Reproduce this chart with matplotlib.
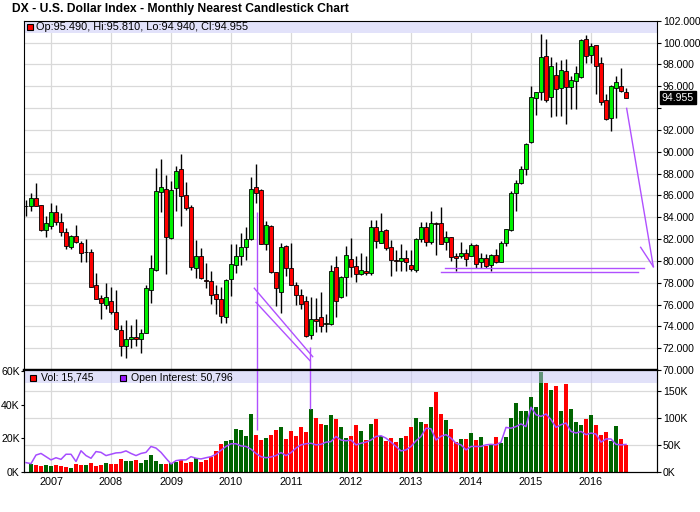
import matplotlib
matplotlib.use("Agg")
import matplotlib.pyplot as plt
from matplotlib.patches import Rectangle
import numpy as np
import pandas as pd

plt.rcParams['font.family'] = ['Liberation Sans', 'DejaVu Sans']

# Dados mensais (Ago 2006 .. Ago 2016)
start_month = "2006-08-01"

opens = [85.00, 85.00, 85.74, 85.10, 82.86, 83.16, 84.47, 83.56, 82.64, 81.28,
         82.28, 81.64, 80.78, 80.82, 77.75, 76.60, 75.96, 76.35, 75.35, 73.70,
         72.20, 72.80, 73.00, 72.80, 73.43, 77.36, 79.15, 86.35, 86.56, 82.07,
         86.63, 88.39, 86.05, 84.95, 79.36, 80.46, 78.24, 78.18, 76.93, 76.53,
         74.90, 78.36, 79.63, 80.46, 81.25, 81.98, 86.72, 86.48, 81.56, 83.20,
         78.97, 77.12, 81.37, 79.34, 77.82, 76.90, 76.30, 73.17, 74.69, 74.87,
         74.20, 74.23, 79.43, 76.66, 78.52, 80.19, 79.55, 78.82, 79.10, 78.88,
         83.14, 81.68, 82.83, 81.25, 80.10, 79.97, 80.25, 79.64, 79.18, 81.98,
         83.14, 81.77, 83.44, 83.44, 81.77, 82.16, 80.40, 80.40, 80.76, 80.46,
         81.49, 79.91, 80.30, 79.60, 80.52, 79.91, 81.61, 82.83, 86.18, 87.09,
         88.43, 90.87, 94.92, 95.43, 98.78, 95.01, 97.05, 95.83, 97.41, 95.92,
         96.50, 96.83, 100.30, 98.87, 99.79, 98.17, 94.70, 93.09, 95.83, 96.04,
         95.49]
highs = [85.60, 86.26, 87.17, 85.15, 84.13, 85.30, 85.10, 84.40, 83.00, 82.35,
         83.30, 81.80, 82.00, 81.10, 78.85, 76.90, 77.93, 77.60, 77.30, 74.10,
         74.56, 74.10, 74.65, 73.80, 77.80, 80.50, 88.54, 89.33, 87.87, 87.36,
         88.72, 89.79, 87.26, 85.10, 81.88, 81.20, 79.76, 79.10, 77.75, 77.60,
         78.30, 81.50, 81.50, 82.53, 83.14, 87.70, 88.85, 86.60, 83.68, 83.30,
         79.00, 81.62, 81.46, 81.60, 78.10, 77.40, 76.80, 76.66, 76.60, 77.10,
         75.17, 79.64, 80.46, 78.60, 81.37, 82.07, 80.40, 80.70, 80.46, 83.74,
         83.74, 84.35, 82.90, 81.90, 81.00, 81.55, 81.00, 81.00, 82.10, 83.60,
         83.60, 84.60, 83.60, 84.96, 82.74, 82.20, 80.70, 81.74, 81.07, 81.61,
         81.55, 80.76, 80.61, 80.67, 81.13, 81.83, 82.95, 86.39, 87.40, 88.68,
         90.80, 95.98, 95.50, 100.79, 100.30, 98.72, 98.26, 98.42, 98.48, 96.89,
         97.81, 100.30, 100.70, 100.00, 99.80, 98.72, 95.31, 96.13, 96.96, 97.66,
         95.81]
lows = [84.10, 84.53, 84.98, 82.70, 82.16, 82.90, 83.30, 82.30, 81.10, 81.10,
        81.60, 79.90, 79.90, 77.60, 76.50, 74.70, 75.56, 75.10, 73.70, 71.25,
        71.06, 72.00, 72.20, 71.60, 73.40, 76.10, 79.06, 84.44, 78.80, 82.00,
        84.60, 83.16, 84.70, 79.20, 78.45, 78.30, 77.54, 76.05, 75.10, 74.35,
        74.35, 76.80, 78.90, 79.64, 80.10, 81.95, 85.33, 81.50, 81.00, 78.90,
        75.84, 75.23, 78.58, 77.80, 76.00, 75.60, 73.00, 72.86, 73.47, 73.47,
        73.47, 74.10, 74.87, 76.60, 76.75, 78.52, 78.10, 78.73, 78.70, 78.70,
        81.22, 81.60, 81.00, 78.58, 79.03, 79.03, 79.03, 79.10, 78.94, 81.77,
        81.37, 81.50, 80.55, 81.50, 81.00, 79.95, 79.03, 80.30, 79.54, 80.40,
        79.39, 79.39, 79.39, 79.09, 79.80, 79.85, 81.37, 82.70, 84.57, 87.00,
        87.91, 90.81, 93.39, 94.76, 94.52, 93.18, 93.30, 93.30, 92.57, 93.91,
        93.91, 96.74, 98.11, 98.11, 95.31, 94.31, 92.94, 91.87, 93.09, 95.43,
        94.94]
closes = [84.98, 85.75, 85.07, 82.86, 83.46, 84.47, 83.56, 82.64, 81.34, 82.25,
          81.73, 80.73, 80.85, 77.63, 76.53, 76.17, 76.70, 75.30, 73.74, 72.20,
          72.80, 72.98, 72.80, 73.43, 77.54, 79.35, 86.41, 86.75, 82.16, 86.50,
          88.20, 85.90, 84.80, 79.42, 80.46, 78.42, 78.12, 76.90, 76.53, 74.95,
          78.27, 79.73, 80.46, 81.28, 82.00, 86.54, 86.24, 81.56, 83.26, 78.97,
          77.51, 81.25, 79.34, 77.82, 76.90, 76.02, 73.10, 74.69, 74.47, 74.02,
          74.30, 79.09, 76.30, 78.52, 80.52, 79.43, 78.79, 79.18, 78.88, 83.14,
          81.83, 82.74, 81.22, 80.04, 80.00, 80.22, 79.88, 79.24, 81.98, 83.14,
          81.77, 83.44, 83.35, 81.53, 82.16, 80.34, 80.25, 80.76, 80.21, 81.49,
          79.70, 80.30, 79.54, 80.52, 79.85, 81.61, 82.89, 86.18, 87.09, 88.43,
          90.75, 95.01, 95.43, 98.66, 94.70, 97.87, 95.74, 97.50, 95.92, 96.59,
          97.20, 100.24, 98.78, 99.70, 97.81, 94.52, 93.00, 95.98, 96.35, 95.53,
          94.955]
volume = [0, 4400, 4200, 3400, 4000, 3600, 4000, 3400, 2800, 2200,
          4600, 4200, 4200, 5200, 3600, 4200, 5200, 4600, 4600, 7600,
          6400, 6400, 7000, 5400, 7000, 10000, 6400, 4600, 4600, 5200,
          5600, 7000, 5400, 5800, 8000, 5800, 7000, 9000, 12400, 16600,
          18000, 19000, 25600, 25000, 21000, 34600, 21600, 19000, 20200, 22000,
          25000, 26800, 19600, 24000, 21000, 26800, 23800, 37600, 32200, 28600,
          28000, 34000, 31600, 26800, 20200, 21400, 28000, 24400, 19000, 28600,
          31600, 21200, 18000, 20200, 17800, 20200, 21000, 26800, 32200, 29800,
          28600, 38800, 47200, 34600, 31000, 25300, 17800, 19600, 19600, 23200,
          19000, 20800, 15600, 16400, 20800, 17200, 20800, 32200, 41200, 36400,
          36400, 44800, 38400, 59200, 52600, 48400, 50800, 36400, 52000, 37200,
          29800, 28000, 31600, 34000, 28000, 22000, 23800, 18400, 27400, 19600,
          15745]
open_interest = [16900, 15000, 31000, 34000, 28000, 22000, 26000, 23000, 32500, 32500,
                 19000, 39000, 30000, 25000, 37500, 36000, 30000, 32500, 35000, 35600,
                 38750, 34000, 30000, 34000, 36000, 47000, 44000, 36000, 25000, 14400,
                 20600, 22000, 22000, 28000, 25000, 23750, 26000, 28000, 32500, 40000,
                 47000, 52000, 52000, 48000, 47000, 42000, 34000, 28000, 26000, 27500,
                 30000, 35600, 30000, 35600, 44000, 50000, 52000, 53000, 50000, 51000,
                 55000, 56000, 65600, 59000, 57500, 59000, 50000, 53000, 55000, 59000,
                 65600, 67000, 62500, 55000, 47000, 38750, 40600, 47000, 57500, 65600,
                 81000, 80000, 59000, 66000, 69000, 62500, 53000, 50000, 40600, 47000,
                 47000, 47000, 50000, 51000, 50000, 55000, 82500, 81000, 84000, 89000,
                 84000, 120000, 106000, 103000, 107500, 97000, 82500, 87500, 90600, 75000,
                 72000, 75000, 69000, 72000, 70000, 55000, 61000, 61000, 51000, 50000,
                 50796]

# Linhas desenhadas a mao (indice do mes, preco)
marker_months = [46.27, 56.86]
marker_price_top = [84.50, 72.14]
marker_vol_bottom = [24600, 37400]
channel_a = ([45.66, 57.34], [77.49, 71.22])
channel_b = ([46.00, 56.80], [76.20, 70.85])
support_1 = ([83.8, 123.6], [79.32, 79.32])
support_2 = ([83.0, 122.34], [78.95, 78.95])
drop_line = ([120.13, 125.47], [93.97, 79.46])
drop_tick = ([122.93, 125.47], [81.24, 79.46])

dates = pd.date_range(start_month, periods=len(closes), freq="MS")
x = np.arange(len(closes))
o = np.array(opens)
c = np.array(closes)
up = c >= o
jan_pos = x[dates.month == 1]
jan_lab = [str(d.year) for d in dates[dates.month == 1]]

purple = "#b050ff"
grid_c = "#d9d9d9"
band_c = "#e2e2fa"
fs = 7.6

fig = plt.figure(figsize=(7, 5.12), dpi=100)
ax = fig.add_axes([24 / 700, 1 - 370 / 512, 633.3 / 700, 349.3 / 512])
ax2 = fig.add_axes([24 / 700, 1 - 471.7 / 512, 633.3 / 700, 101.7 / 512])

# --- painel de precos (candles)
ax.vlines(x, lows, highs, color="black", lw=1, zorder=3)
body_h = np.maximum(np.abs(c - o), 0.06)
ax.bar(x, body_h, bottom=np.minimum(o, c), width=0.62,
       color=np.where(up, "#00f000", "#ff0000"), edgecolor="black", lw=0.6, zorder=4)

ax.set_xlim(-0.4, 126.26)
ax.set_ylim(70, 102)
ax.set_xticks(jan_pos)
ax.tick_params(axis="x", length=0, labelbottom=False)
ax.yaxis.tick_right()
yt = list(range(70, 104, 2))
ax.set_yticks(yt)
ax.set_yticklabels(["" if v == 94 else f"{v:.3f}" for v in yt])
ax.tick_params(axis="y", length=3, pad=1, labelsize=fs, direction="out")
ax.grid(True, color=grid_c, lw=0.9)
ax.set_axisbelow(True)
ax.spines["bottom"].set_linewidth(1.6)

ax.add_patch(Rectangle((0, 1 - 0.0344), 1, 0.0344, transform=ax.transAxes,
                       facecolor=band_c, edgecolor="none", zorder=2))
ax.plot([0.0095], [0.982], marker="s", ms=5, mfc="#ff0000", mec="black", mew=0.8,
        transform=ax.transAxes, clip_on=False, zorder=6)
ax.text(0.0189, 0.982,
        f"Op:{opens[-1]:.3f}, Hi:{highs[-1]:.3f}, Lo:{lows[-1]:.3f}, Cl:{closes[-1]:.3f}",
        transform=ax.transAxes, va="center", ha="left", fontsize=7.9, zorder=6)

ax.text(1.0074, closes[-1], f"{closes[-1]:.3f}", transform=ax.get_yaxis_transform(),
        ha="left", va="center", color="white", fontsize=fs, clip_on=False,
        bbox=dict(boxstyle="square,pad=0.15", fc="black", ec="black"))

# anotacoes roxas
ax.vlines(marker_months, 70, marker_price_top, color=purple, lw=1, zorder=5)
for xs, ys in [channel_a, channel_b, support_1, support_2, drop_line, drop_tick]:
    ax.plot(xs, ys, color=purple, lw=1, zorder=5, clip_on=False)

# --- painel de volume / open interest
vol_top = 60600
ratio = 3.125
ax2.bar(x, volume, width=0.64, color=np.where(up, "#006400", "#ff0000"), zorder=2)
ax2.set_xlim(-0.4, 126.26)
ax2.set_ylim(0, vol_top)
ax2.set_yticks([0, 20000, 40000, 60000])
ax2.set_yticklabels(["0K", "20K", "40K", "60K"])
ax2.tick_params(axis="y", length=2, pad=1, labelsize=fs, direction="out")
ax2.set_xticks(jan_pos)
ax2.set_xticklabels(jan_lab)
ax2.tick_params(axis="x", length=0, pad=4, labelsize=7.8)
ax2.grid(True, axis="x", color=grid_c, lw=0.9)
ax2.set_axisbelow(True)
oi_ticks = [0, 50000, 100000, 150000]
for t in oi_ticks[1:]:
    ax2.axhline(t / ratio, color=grid_c, lw=0.9, zorder=0.5)
ax2.spines["top"].set_linewidth(1.6)

ax2.add_patch(Rectangle((0, 1 - 0.132), 1, 0.132, transform=ax2.transAxes,
                        facecolor="#c5c5f5", alpha=0.5, edgecolor="none", zorder=5))
ax2.vlines(marker_months, marker_vol_bottom, vol_top, color=purple, lw=1, zorder=6)

ax2b = ax2.twinx()
ax2b.plot(x, open_interest, color="#a64dff", lw=1.1)
ax2b.set_ylim(0, vol_top * ratio)
ax2b.set_yticks(oi_ticks)
ax2b.set_yticklabels(["0K", "50K", "100K", "150K"])
ax2b.tick_params(axis="y", length=3, pad=1, labelsize=fs, direction="out")

ax2b.plot([0.0137], [0.923], marker="s", ms=5, mfc="#ff0000", mec="black", mew=0.8,
          transform=ax2b.transAxes, clip_on=False)
ax2b.text(0.0268, 0.923, f"Vol: {volume[-1]:,}", transform=ax2b.transAxes,
          va="center", ha="left", fontsize=fs)
ax2b.plot([0.1558], [0.923], marker="s", ms=5, mfc="#9a16ff", mec="black", mew=0.8,
          transform=ax2b.transAxes, clip_on=False)
ax2b.text(0.169, 0.923, f"Open Interest: {open_interest[-1]:,}", transform=ax2b.transAxes,
          va="center", ha="left", fontsize=fs)

fig.text(12 / 700, 1 - 9 / 512, "DX - U.S. Dollar Index - Monthly Nearest Candlestick Chart",
         fontsize=8.7, fontweight="bold", va="center", ha="left")

fig.savefig("out.png", dpi=100)
